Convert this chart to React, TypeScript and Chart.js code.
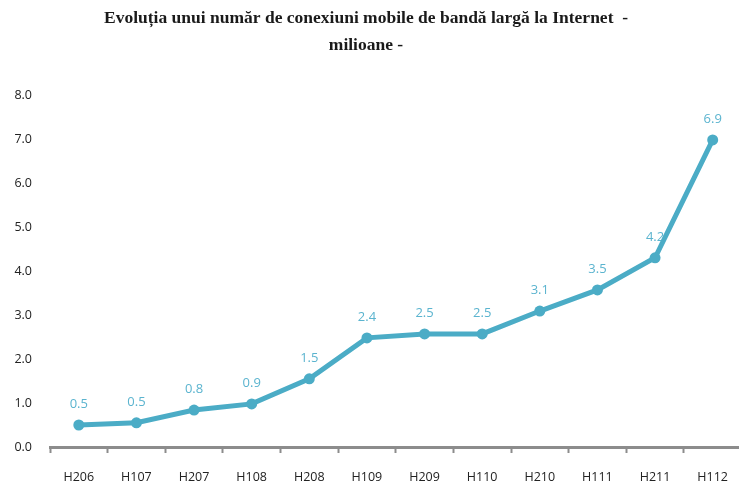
import React, { useEffect, useRef } from "react";
import { Chart, registerables } from "chart.js";

Chart.register(...registerables);

const categories = ["H206", "H107", "H207", "H108", "H208", "H109", "H209", "H110", "H210", "H111", "H211", "H112"];
const values = [0.5, 0.55, 0.84, 0.98, 1.55, 2.48, 2.57, 2.57, 3.09, 3.57, 4.3, 6.98];
const valueLabels = ["0.5", "0.5", "0.8", "0.9", "1.5", "2.4", "2.5", "2.5", "3.1", "3.5", "4.2", "6.9"];
const titleLines = ["Evoluția unui număr de conexiuni mobile de bandă largă la Internet  -", "milioane -"];

const lineColor = "#4bacc6";
const labelColor = "#5bb4cf";

const dataLabelPlugin = {
  id: "dataLabels",
  beforeDatasetsDraw(chart: any) {
    const ctx = chart.ctx;
    const meta = chart.getDatasetMeta(0);
    ctx.save();
    ctx.font = "13px 'Open Sans'";
    ctx.fillStyle = labelColor;
    ctx.textAlign = "center";
    ctx.textBaseline = "middle";
    meta.data.forEach((pt: any, i: number) => {
      ctx.fillText(valueLabels[i], pt.x, pt.y - 21);
    });
    ctx.restore();
  },
};

const titlePlugin = {
  id: "customTitle",
  afterDraw(chart: any) {
    const ctx = chart.ctx;
    ctx.save();
    ctx.font = "bold 17.5px 'Liberation Serif'";
    ctx.fillStyle = "#1a1a1a";
    ctx.textAlign = "center";
    ctx.textBaseline = "middle";
    titleLines.forEach((line, i) => {
      ctx.fillText(line, 366, 18 + i * 27);
    });
    ctx.restore();
  },
};

export default function App() {
  const ref = useRef<HTMLCanvasElement | null>(null);
  useEffect(() => {
    if (!ref.current) return;
    const chart = new Chart(ref.current, {
      type: "line",
      data: {
        labels: categories,
        datasets: [
          {
            data: values,
            borderColor: lineColor,
            backgroundColor: lineColor,
            borderWidth: 5,
            pointRadius: 5.5,
            pointBackgroundColor: lineColor,
            pointBorderWidth: 0,
            tension: 0,
          },
        ],
      },
      options: {
        animation: false,
        responsive: false,
        devicePixelRatio: 1,
        layout: { padding: { top: 95, left: 0, right: 0, bottom: 0 } },
        plugins: {
          legend: { display: false },
          tooltip: { enabled: false },
          title: { display: false },
        },
        scales: {
          x: {
            offset: true,
            grid: {
              display: true,
              offset: true,
              drawOnChartArea: false,
              drawTicks: true,
              tickLength: 6,
              tickWidth: 2,
              color: "#8c8c8c",
            },
            border: { display: true, color: "#8c8c8c", width: 3 },
            ticks: {
              color: "#222",
              font: { family: "'Open Sans'", size: 12.5 },
              padding: 17,
              maxRotation: 0,
            },
            afterFit(scale: any) {
              scale.height = 36;
            },
          },
          y: {
            min: 0,
            max: 8,
            grid: { display: false },
            border: { display: false },
            ticks: {
              stepSize: 1,
              color: "#222",
              font: { family: "'Open Sans'", size: 12.5 },
              padding: 10,
              callback: (v: any) => Number(v).toFixed(1),
            },
            afterFit(scale: any) {
              scale.width = 50;
            },
          },
        },
      },
      plugins: [dataLabelPlugin, titlePlugin],
    });
    return () => chart.destroy();
  }, []);
  return (
    <div style={{ position: "fixed", left: 0, top: 0, width: 739, height: 483, overflow: "hidden", background: "#fff" }}>
      <canvas ref={ref} width={747} height={483} style={{ display: "block" }} />
    </div>
  );
}
